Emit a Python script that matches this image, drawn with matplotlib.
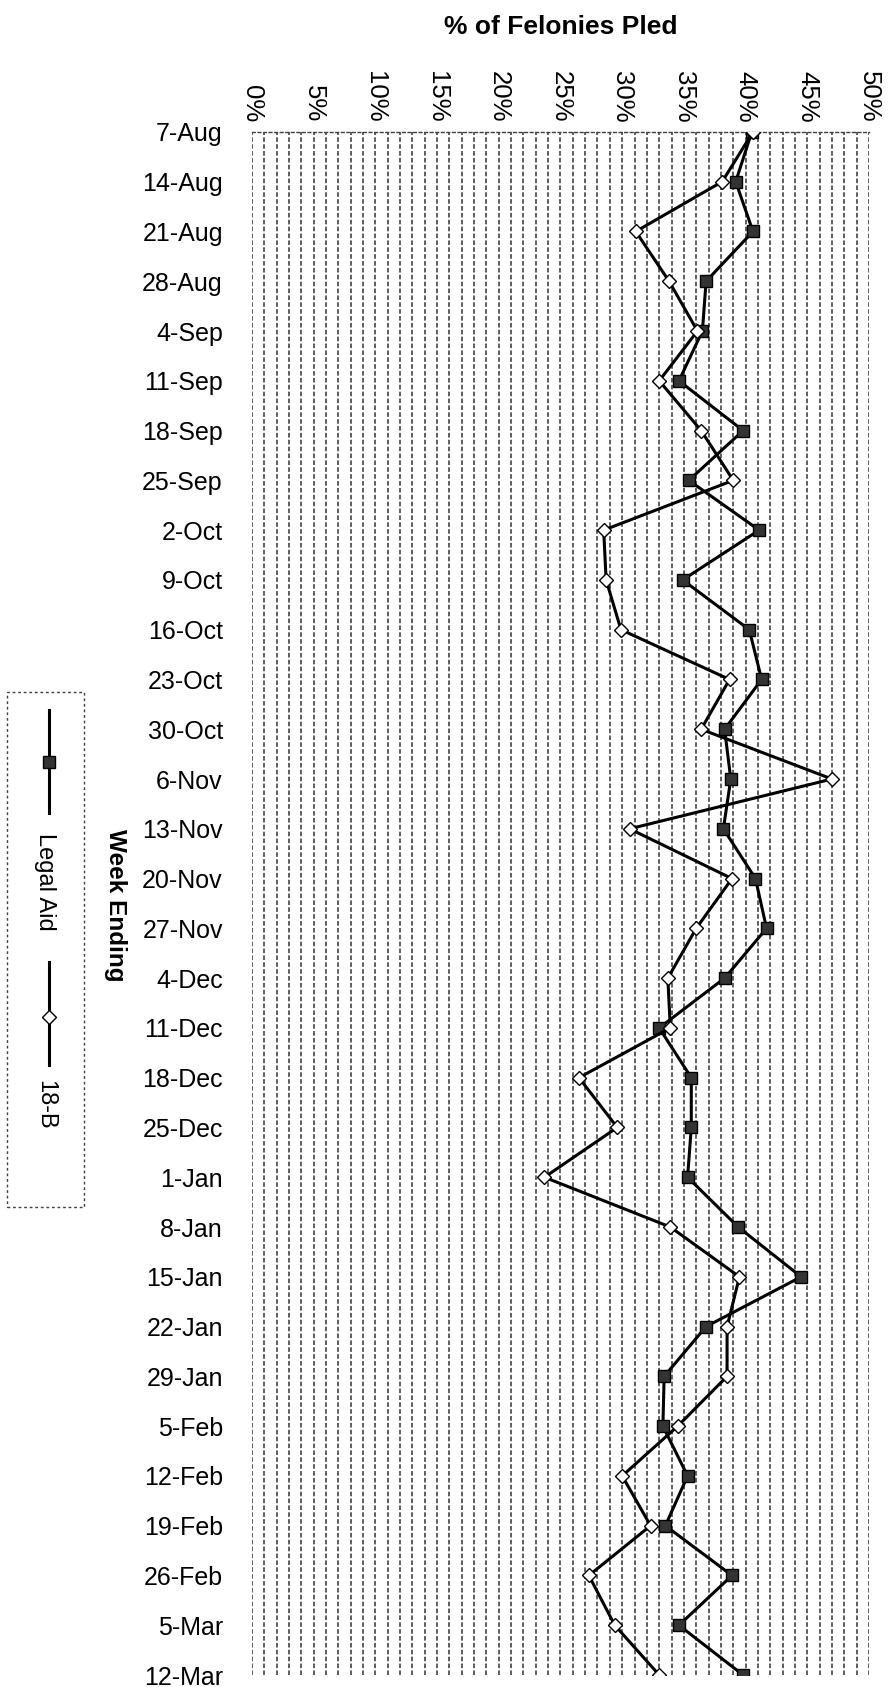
import numpy as np
import matplotlib.pyplot as plt
from matplotlib.lines import Line2D
from matplotlib.patches import Rectangle

plt.rcParams['font.family'] = ['Liberation Sans', 'DejaVu Sans']

# week ending dates, top to bottom
weeks = ["7-Aug", "14-Aug", "21-Aug", "28-Aug",
         "4-Sep", "11-Sep", "18-Sep", "25-Sep",
         "2-Oct", "9-Oct", "16-Oct", "23-Oct", "30-Oct",
         "6-Nov", "13-Nov", "20-Nov", "27-Nov",
         "4-Dec", "11-Dec", "18-Dec", "25-Dec",
         "1-Jan", "8-Jan", "15-Jan", "22-Jan", "29-Jan",
         "5-Feb", "12-Feb", "19-Feb", "26-Feb",
         "5-Mar", "12-Mar"]

# % of felonies pled
legal_aid = [40.5, 39.2, 40.6, 36.8,
             36.5, 34.6, 39.8, 35.4,
             41.1, 34.9, 40.3, 41.3, 38.3,
             38.8, 38.2, 40.8, 41.7,
             38.3, 33.0, 35.6, 35.6,
             35.3, 39.4, 44.5, 36.8, 33.4,
             33.3, 35.3, 33.5, 38.9,
             34.6, 39.8]

eighteen_b = [40.6, 38.1, 31.1, 33.8,
              36.1, 33.0, 36.4, 39.0,
              28.5, 28.7, 29.9, 38.7, 36.4,
              47.0, 30.6, 38.9, 36.0,
              33.7, 33.9, 26.5, 29.6,
              23.7, 33.9, 39.5, 38.5, 38.5,
              34.5, 30.0, 32.3, 27.3,
              29.4, 33.0]

x_ticks = np.arange(0, 51, 5)

fig = plt.figure(figsize=(8.9, 16.87), dpi=100)
ax = fig.add_axes([0.2831, 0.0071, 0.6933, 0.9147])

y = np.arange(len(weeks))
ax.plot(legal_aid, y, color="black", lw=2.2, marker="s", markersize=8.5,
        markerfacecolor="#333333", markeredgecolor="black", zorder=3)
ax.plot(eighteen_b, y, color="black", lw=2.2, marker="D", markersize=7,
        markerfacecolor="white", markeredgecolor="black", markeredgewidth=1,
        zorder=4)

ax.set_xlim(0, 50)
ax.set_ylim(len(weeks) - 1, 0)

ax.xaxis.tick_top()
ax.set_xticks(x_ticks)
ax.set_xticklabels([f"{v}%" for v in x_ticks], rotation=-90, fontsize=18.5)
ax.set_xticks(np.arange(0, 51, 1), minor=True)
ax.grid(which="both", axis="x", color="0.2", lw=1.1, linestyle=(0, (3, 1.5)))
ax.set_axisbelow(True)

ax.set_yticks(y)
ax.set_yticklabels(weeks, fontsize=18)
ax.tick_params(axis="y", length=0, pad=21)
ax.tick_params(axis="x", which="both", length=0, pad=7)

for side in ["left", "right", "bottom"]:
    ax.spines[side].set_visible(False)
ax.spines["top"].set_linestyle((0, (2, 2)))
ax.spines["top"].set_color("0.25")
ax.spines["top"].set_linewidth(1.0)

fig.text(0.630, 1 - 27 / 1687, "% of Felonies Pled", ha="center", va="center",
         fontsize=19, fontweight="bold")
fig.text(0.130, 0.4635, "Week Ending", ha="center", va="center",
         rotation=-90, fontsize=17.5, fontweight="bold")

# legend, drawn rotated like the original
fig.add_artist(Rectangle((0.0079, 0.2845), 0.0865, 0.3053, transform=fig.transFigure,
                         fill=False, edgecolor="0.25", lw=1.0, linestyle=(0, (2, 2))))
fig.add_artist(Line2D([0.0551, 0.0551, 0.0551], [0.5791, 0.5483, 0.5181],
                      transform=fig.transFigure, color="black", lw=2.2,
                      marker="s", markevery=[1], markersize=8.5,
                      markerfacecolor="#333333", markeredgecolor="black"))
fig.text(0.0506, 0.4772, "Legal Aid", ha="center", va="center",
         rotation=-90, fontsize=17)
fig.add_artist(Line2D([0.0551, 0.0551, 0.0551], [0.4298, 0.3972, 0.3687],
                      transform=fig.transFigure, color="black", lw=2.2,
                      marker="D", markevery=[1], markersize=7,
                      markerfacecolor="white", markeredgecolor="black"))
fig.text(0.0506, 0.3450, "18-B", ha="center", va="center",
         rotation=-90, fontsize=17)

fig.savefig("out.png", dpi=100)
